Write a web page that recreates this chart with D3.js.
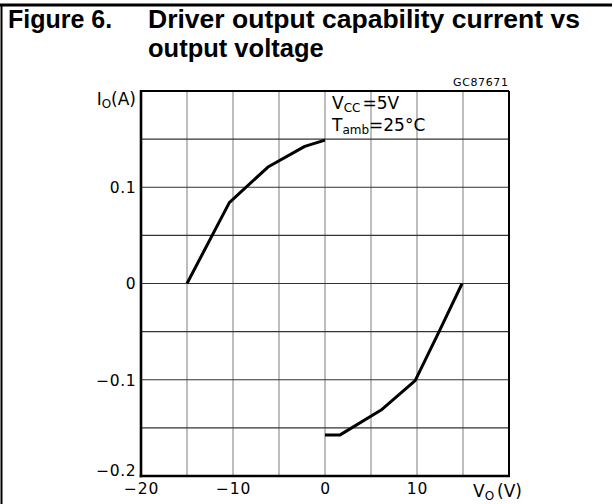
<!DOCTYPE html>
<html><head><meta charset="utf-8">
<script src="https://cdn.jsdelivr.net/npm/d3@7"></script>
<style>
html,body{margin:0;padding:0;background:#fff;}
svg{display:block;}
</style></head>
<body>
<script>
// Data
const sourceV = [-15, -10.4, -6.2, -2.2, 0];
const sourceI = [0, 0.084, 0.121, 0.1425, 0.149];
const sinkV = [0, 1.6, 6.1, 9.8, 12.4, 14.9];
const sinkI = [-0.1575, -0.1575, -0.1315, -0.101, -0.05, 0];
const xTicks = [-20, -10, 0, 10];
const yTicks = [-0.2, -0.1, 0, 0.1];
const xGrid = [-15, -10, -5, 0, 5, 10, 15];
const yGrid = [-0.15, -0.1, -0.05, 0, 0.05, 0.1, 0.15];

const W = 614, H = 504;
const svg = d3.select("body").append("svg").attr("width", W).attr("height", H);

// Page frame
svg.append("line").attr("x1", 0).attr("x2", 612).attr("y1", 5).attr("y2", 5)
  .attr("stroke", "#000").attr("stroke-width", 3);
svg.append("line").attr("x1", 1.5).attr("x2", 1.5).attr("y1", 5).attr("y2", H)
  .attr("stroke", "#000").attr("stroke-width", 2);

// Title
const tf = "'Liberation Sans', Arial, sans-serif";
svg.append("text").attr("x", 8).attr("y", 28).attr("font-family", tf).attr("font-weight", "bold")
  .attr("font-size", 25).text("Figure 6.");
svg.append("text").attr("x", 148).attr("y", 28).attr("font-family", tf).attr("font-weight", "bold")
  .attr("font-size", 25.5).attr("textLength", 432).attr("lengthAdjust", "spacingAndGlyphs")
  .text("Driver output capability current vs");
svg.append("text").attr("x", 148).attr("y", 57).attr("font-family", tf).attr("font-weight", "bold")
  .attr("font-size", 25.5).text("output voltage");

const x = d3.scaleLinear().domain([-20, 20]).range([141, 509]);
const y = d3.scaleLinear().domain([-0.2, 0.2]).range([476, 91]);

const lf = "'DejaVu Sans', sans-serif";

// Grid
svg.append("g").selectAll("line").data(xGrid).join("line")
  .attr("x1", d => x(d)).attr("x2", d => x(d)).attr("y1", y(0.2)).attr("y2", y(-0.2))
  .attr("stroke", "#888").attr("stroke-width", 1.1);
svg.append("g").selectAll("line").data(yGrid).join("line")
  .attr("x1", x(-20)).attr("x2", x(20)).attr("y1", d => y(d)).attr("y2", d => y(d))
  .attr("stroke", "#333").attr("stroke-width", 1.1);

// Frame
svg.append("line").attr("x1", x(-20)).attr("x2", x(20)).attr("y1", y(0.2)).attr("y2", y(0.2)).attr("stroke", "#000").attr("stroke-width", 2);
svg.append("line").attr("x1", x(20)).attr("x2", x(20)).attr("y1", y(0.2)).attr("y2", y(-0.2)).attr("stroke", "#000").attr("stroke-width", 2);
svg.append("line").attr("x1", x(-20)).attr("x2", x(-20)).attr("y1", y(0.2) - 1).attr("y2", y(-0.2) + 1.3).attr("stroke", "#000").attr("stroke-width", 2.6);
svg.append("line").attr("x1", x(-20) - 1.3).attr("x2", x(20) + 1).attr("y1", y(-0.2)).attr("y2", y(-0.2)).attr("stroke", "#000").attr("stroke-width", 2.6);

// Axes (labels only)
const fmt = d => (d < 0 ? "\u2212" : "") + (Math.abs(d) === 0 ? "0" : d3.format("")(Math.abs(d)));
const yAxis = svg.append("g").attr("transform", `translate(${x(-20)},0)`)
  .call(d3.axisLeft(y).tickValues(yTicks).tickSize(0).tickPadding(5).tickFormat(fmt));
yAxis.select(".domain").remove();
yAxis.selectAll("text").attr("font-family", lf).attr("font-size", 15.5).attr("fill", "#000")
  .attr("letter-spacing", 0.5)
  .attr("dy", d => d === -0.2 ? "-0.02em" : "0.34em");
const xAxis = svg.append("g").attr("transform", `translate(0,${y(-0.2)})`)
  .call(d3.axisBottom(x).tickValues(xTicks).tickSize(0).tickPadding(7).tickFormat(fmt));
xAxis.select(".domain").remove();
xAxis.selectAll("text").attr("font-family", lf).attr("font-size", 15.5).attr("fill", "#000")
  .attr("letter-spacing", 0.8);

// Axis titles
const yl = svg.append("text").attr("x", 136).attr("y", 105).attr("text-anchor", "end")
  .attr("font-family", lf).attr("font-size", 17);
yl.append("tspan").text("I");
yl.append("tspan").attr("font-size", 12).attr("dy", 3).text("O");
yl.append("tspan").attr("dy", -3).text("(A)");
const xl = svg.append("text").attr("x", 473).attr("y", 497)
  .attr("font-family", lf).attr("font-size", 17);
xl.append("tspan").text("V");
xl.append("tspan").attr("font-size", 12).attr("dy", 3).text("O");
xl.append("tspan").attr("dy", -3).attr("dx", 3).text("(V)");

// Code
svg.append("text").attr("x", 508).attr("y", 86).attr("text-anchor", "end")
  .attr("font-family", lf).attr("font-size", 11).attr("textLength", 55).text("GC87671");

// Conditions
const a1 = svg.append("text").attr("x", 332).attr("y", 109).attr("font-family", lf).attr("font-size", 17);
a1.append("tspan").text("V");
a1.append("tspan").attr("font-size", 12).attr("dy", 3).text("CC");
a1.append("tspan").attr("dy", -3).attr("dx", 2).text("=5V");
const a2 = svg.append("text").attr("x", 332).attr("y", 131).attr("font-family", lf).attr("font-size", 17);
a2.append("tspan").text("T");
a2.append("tspan").attr("font-size", 12).attr("dy", 3).text("amb");
a2.append("tspan").attr("dy", -3).text("=25\u00B0C");

// Curves
const line = d3.line().x(d => x(d[0])).y(d => y(d[1]));
const src = sourceV.map((v, i) => [v, sourceI[i]]);
const snk = sinkV.map((v, i) => [v, sinkI[i]]);
svg.append("path").attr("d", line(src)).attr("fill", "none").attr("stroke", "#000").attr("stroke-width", 3).attr("stroke-linejoin", "round");
svg.append("path").attr("d", line(snk)).attr("fill", "none").attr("stroke", "#000").attr("stroke-width", 3).attr("stroke-linejoin", "round");
</script>
</body></html>
